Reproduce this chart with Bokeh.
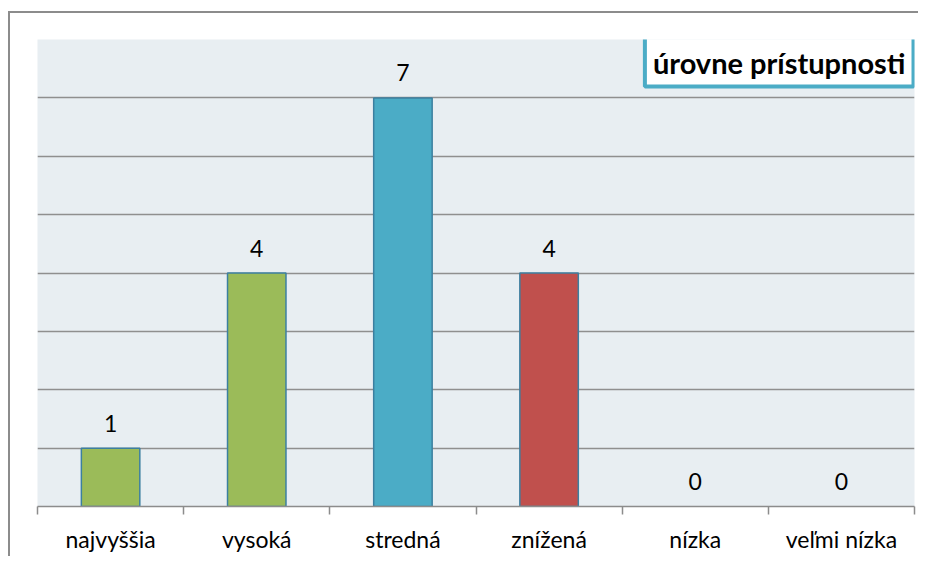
from bokeh.plotting import figure
from bokeh.models import FixedTicker, Range1d, ColumnDataSource, Label, LabelSet
from bokeh.core.properties import value
from bokeh.embed import file_html
from bokeh.resources import INLINE

categories = ["najvyššia", "vysoká", "stredná", "znížená", "nízka", "veľmi nízka"]
values = [1, 4, 7, 4, 0, 0]
bar_colors = ["#9BBB59", "#9BBB59", "#4BACC6", "#C0504D", "#9BBB59", "#9BBB59"]
title_text = "úrovne prístupnosti"

FONT = "Lato"

xs = [i + 0.5 for i in range(len(categories))]
src = ColumnDataSource(dict(x=xs, top=values, color=bar_colors,
                            la=[1.0 if v > 0 else 0.0 for v in values],
                            lbl=[str(v) for v in values]))

p = figure(width=910, height=545, output_backend="svg", toolbar_location=None,
           x_range=Range1d(0, len(categories)), y_range=Range1d(0, 8),
           min_border_left=27, min_border_right=6, min_border_top=26,
           min_border_bottom=52, margin=(13, 0, 0, 10))
p.styles = {"box-shadow": "-2px -2px 0 0 #8c8c8c"}
p.background_fill_color = "#E8EEF2"
p.border_fill_color = "white"
p.outline_line_color = None

p.vbar(x="x", top="top", width=0.4, bottom=0, source=src, fill_color="color",
       line_color="#3C7FA0", line_width=1.5, line_alpha="la", fill_alpha="la")

labels = LabelSet(x="x", y="top", text="lbl", source=src, text_align="center",
                  text_baseline="middle", y_offset=25, text_font=value(FONT),
                  text_font_size="23px", text_color="black")
p.add_layout(labels)

p.yaxis.visible = False
p.ygrid.ticker = FixedTicker(ticks=list(range(0, 9)))
p.ygrid.grid_line_color = "#8f8f8f"
p.ygrid.grid_line_width = 1.3
p.xgrid.visible = False

ax = p.xaxis[0]
ax.ticker = FixedTicker(ticks=xs, minor_ticks=list(range(0, len(categories) + 1)))
ax.major_label_overrides = {x: c for x, c in zip(xs, categories)}
ax.major_tick_out = 0
ax.major_tick_in = 0
ax.minor_tick_out = 8
ax.minor_tick_in = 0
ax.minor_tick_line_color = "#8c8c8c"
ax.minor_tick_line_width = 1.5
ax.axis_line_color = "#8c8c8c"
ax.axis_line_width = 1.5
ax.major_label_standoff = 10
ax.major_label_text_font = FONT
ax.major_label_text_font_size = "23px"
ax.major_label_text_color = "black"

title = Label(x=len(categories), y=8, text=title_text, text_align="right",
              text_baseline="top", x_offset=-1, y_offset=3, text_font=FONT,
              text_font_style="bold", text_font_size="29px", text_color="black",
              background_fill_color="white", border_line_color="#4BACC6",
              border_line_width=4,
              padding=dict(left=8, right=8, top=8, bottom=7))
p.add_layout(title)

open("out.html", "w").write(file_html(p, INLINE))
